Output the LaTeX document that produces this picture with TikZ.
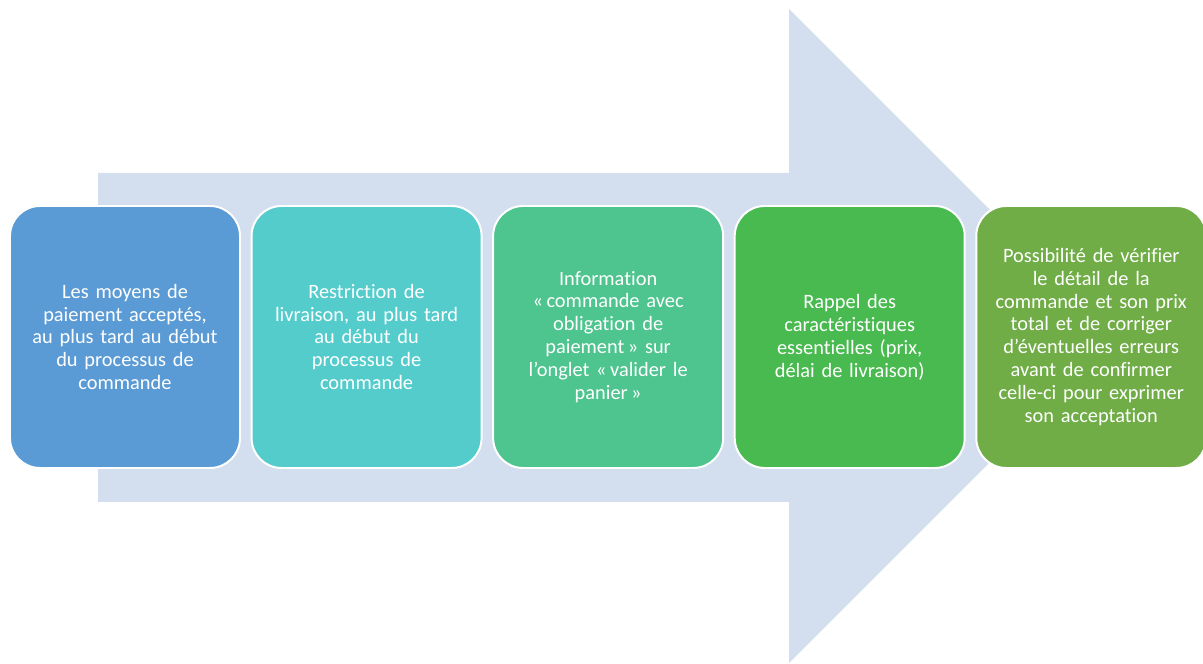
\documentclass[tikz,border=0pt]{standalone}
\usepackage{fontspec}
\setmainfont[Ligatures=NoCommon]{Carlito}
\usetikzlibrary{positioning}

\definecolor{arrowfill}{RGB}{211,222,239}
\definecolor{stepA}{RGB}{91,155,213}
\definecolor{stepB}{RGB}{85,204,204}
\definecolor{stepC}{RGB}{78,196,142}
\definecolor{stepD}{RGB}{73,186,80}
\definecolor{stepE}{RGB}{112,173,71}

\tikzset{
    stepbox/.style={rectangle, rounded corners=0.75cm, draw=white, line width=1.4pt,
        minimum width=5.75cm, minimum height=6.55cm, text width=5.3cm, align=center,
        text=white, font=\fontsize{14.5}{16.3}\selectfont, inner sep=0pt},
}

\begin{document}
\begin{tikzpicture}
\useasboundingbox (0,0) rectangle (30.075,16.6);
\fill[arrowfill] (2.45,12.275) -- (19.725,12.275) -- (19.725,16.375) -- (27.9,8.2)
    -- (19.725,0.025) -- (19.725,4.05) -- (2.45,4.05) -- cycle;

\node[stepbox, fill=stepA] (moyens) at (3.125,8.175)
    {Les moyens de\\ paiement acceptés,\\ au plus tard au début\\ du processus de\\ commande};
\node[stepbox, fill=stepB, right=0.24cm of moyens] (restriction)
    {Restriction de\\ livraison, au plus tard\\ au début du\\ processus de\\ commande};
\node[stepbox, fill=stepC, right=0.24cm of restriction] (information)
    {Information\\ «\,commande avec\\ obligation de\\ paiement\,» sur\\ l’onglet «\,valider le\\ panier\,»};
\node[stepbox, fill=stepD, right=0.24cm of information] (rappel)
    {Rappel des\\ caractéristiques\\ essentielles (prix,\\ délai de livraison)};
\node[stepbox, fill=stepE, right=0.24cm of rappel] (verifier)
    {Possibilité de vérifier\\ le détail de la\\ commande et son prix\\ total et de corriger\\ d’éventuelles erreurs\\ avant de confirmer\\ celle-ci pour exprimer\\ son acceptation};

\end{tikzpicture}
\end{document}
